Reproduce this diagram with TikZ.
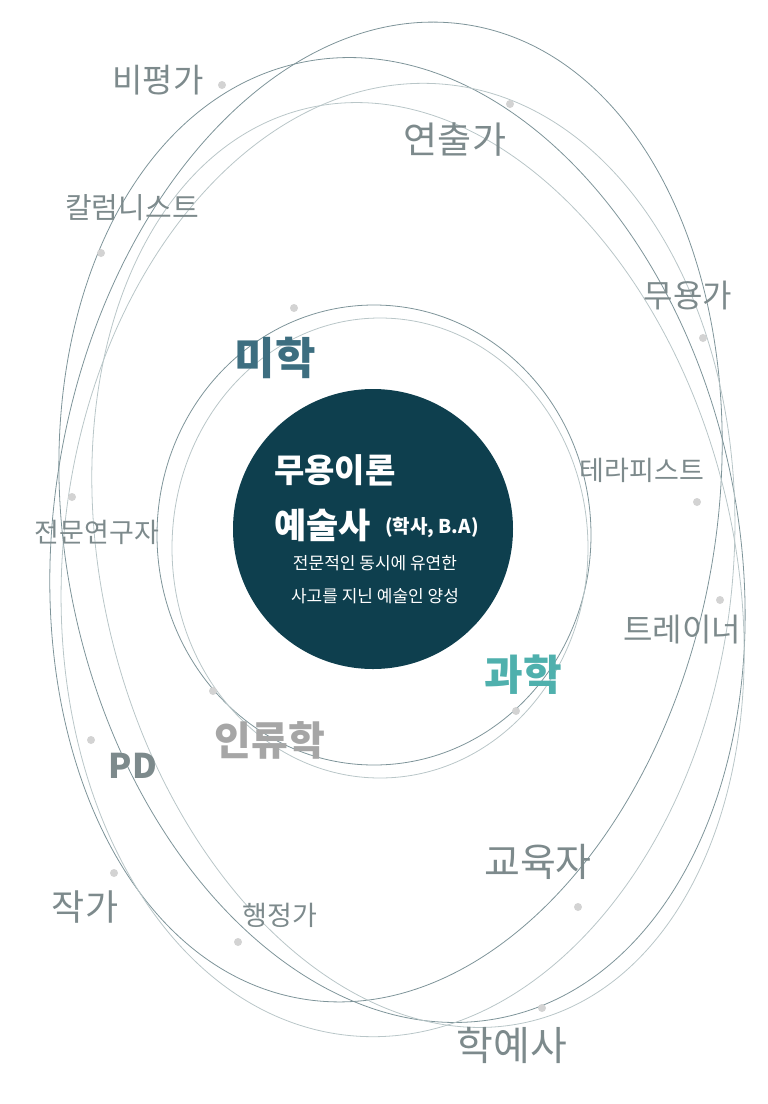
\documentclass[tikz,border=0pt]{standalone}
\usepackage{fontspec}
\setmainfont{Noto Sans CJK KR}
\definecolor{lab}{HTML}{7D8A8C}
\definecolor{ring}{HTML}{7E9499}
\definecolor{ringl}{HTML}{B9C6C8}
\definecolor{dotc}{HTML}{D3D3D3}
\definecolor{core}{HTML}{0E3F4E}
\definecolor{mi}{HTML}{3D6E80}
\definecolor{gwa}{HTML}{4FB0AD}
\begin{document}
\begin{tikzpicture}[x=1pt,y=-1pt,
  lbl/.style={text=lab,inner sep=0pt},
  dotn/.style={circle,fill=dotc,inner sep=0pt,minimum size=8pt},
  rg/.style={draw=ring,line width=0.8pt},
  rgl/.style={draw=ringl,line width=0.8pt}]
\useasboundingbox (0,0) rectangle (768,1104);
% outer ellipses
\draw[rg,rotate around={-10:(386,512)}] (386,512) ellipse [x radius=330,y radius=494];
\draw[rg,rotate around={12:(402,540)}] (402,540) ellipse [x radius=335,y radius=488];
\draw[rgl,rotate around={-6:(398,560)}] (398,560) ellipse [x radius=335,y radius=478];
\draw[rgl,rotate around={14:(418,565)}] (418,565) ellipse [x radius=315,y radius=470];
% inner ellipses
\draw[rg] (374,535) ellipse [x radius=217,y radius=230];
\draw[rgl] (380,548) ellipse [x radius=208,y radius=230];
% dots
\foreach \n/\p in {d1/{(222,85)},d2/{(510,104)},d3/{(101,253)},d4/{(294,308)},d5/{(703,338)},d6/{(697,502)},d7/{(72,497)},d8/{(720,600)},d9/{(213,691)},d10/{(516,711)},d11/{(91,740)},d12/{(114,873)},d13/{(578,907)},d14/{(238,942)},d15/{(542,1008)}}
  \node[dotn] (\n) at \p {};
% core
\node[circle,fill=core,minimum size=280pt,inner sep=0pt] (core) at (373,529) {};
\node[text=white,font=\fontsize{33}{33}\selectfont\bfseries,anchor=west,inner sep=0pt] (t1) at (274,470) {무용이론};
\node[text=white,font=\fontsize{35}{35}\selectfont\bfseries,anchor=west,inner sep=0pt] (t2) at (274,525) {예술사};
\node[text=white,font=\fontsize{19}{19}\selectfont\bfseries,anchor=west,inner sep=0pt] (t2b) at (385,528) {(학사, B.A)};
\node[text=white,font=\fontsize{17}{17}\selectfont,inner sep=0pt] (t3) at (375,563) {전문적인 동시에 유연한};
\node[text=white,font=\fontsize{17}{17}\selectfont,inner sep=0pt] (t4) at (375,596) {사고를 지닌 예술인 양성};
% labels
\node[lbl,font=\fontsize{33}{33}\selectfont] (l1) at (158,80) {비평가};
\node[lbl,font=\fontsize{37}{37}\selectfont] (l2) at (455,140) {연출가};
\node[lbl,font=\fontsize{29}{29}\selectfont] (l3) at (132,208) {칼럼니스트};
\node[lbl,font=\fontsize{32}{32}\selectfont] (l4) at (688,295) {무용가};
\node[inner sep=0pt,text=mi,font=\fontsize{44}{44}\selectfont\bfseries] (l5) at (275,358) {미학};
\node[lbl,font=\fontsize{27}{27}\selectfont] (l6) at (642,470) {테라피스트};
\node[lbl,font=\fontsize{27}{27}\selectfont] (l7) at (97,532) {전문연구자};
\node[lbl,font=\fontsize{32}{32}\selectfont] (l8) at (682,630) {트레이너};
\node[inner sep=0pt,text=gwa,font=\fontsize{42}{42}\selectfont\bfseries] (l9) at (523,675) {과학};
\node[inner sep=0pt,text=black!35,font=\fontsize{40}{40}\selectfont\bfseries] (l10) at (270,740) {인류학};
\node[lbl,font=\fontsize{34}{34}\selectfont\bfseries] (l11) at (133,766) {PD};
\node[lbl,font=\fontsize{39}{39}\selectfont] (l12) at (538,862) {교육자};
\node[lbl,font=\fontsize{36}{36}\selectfont] (l13) at (85,907) {작가};
\node[lbl,font=\fontsize{27}{27}\selectfont] (l14) at (280,915) {행정가};
\node[lbl,font=\fontsize{40}{40}\selectfont] (l15) at (512,1045) {학예사};
\end{tikzpicture}
\end{document}
